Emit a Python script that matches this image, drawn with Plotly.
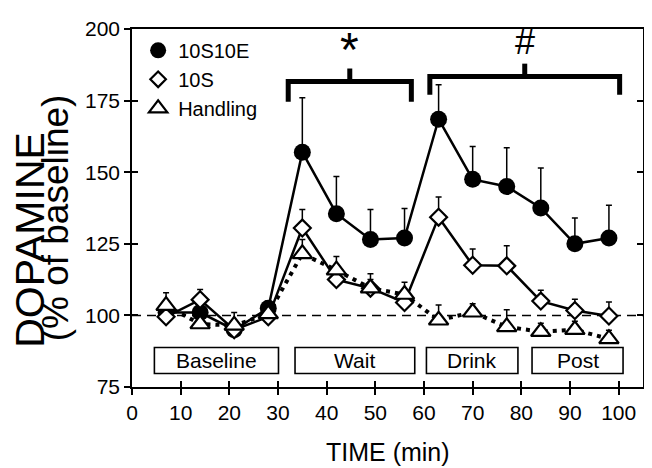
import plotly.graph_objects as go

# ---------------- data ----------------
time_min = [7, 14, 21, 28, 35, 42, 49, 56, 63, 70, 77, 84, 91, 98]

s10e_mean = [101, 101, 95, 102.5, 157, 135.5, 126.5, 127, 168.5, 147.5, 145, 137.5, 125, 127]
s10e_err = [2, 2, 2, 2.5, 19, 13, 10.5, 10.3, 12, 11.5, 13.5, 14, 9, 11.5]

s10_mean = [99.5, 105.5, 95, 99.5, 130.5, 112.5, 109.5, 104.5, 134.3, 117.5, 117.3, 105, 101.7, 99.8]
s10_err = [3, 3.5, 2, 2, 6.5, 3, 3, 4, 7, 5.7, 7, 3.8, 3.9, 4.9]

hand_mean = [103.4, 97, 96.5, 100.5, 121.5, 115.8, 109.5, 107.3, 98.3, 101.1, 96, 94.3, 95, 91.8]
hand_err = [4.5, 3, 4.5, 2, 5, 4.8, 5, 4.3, 5.3, 3, 6, 3, 3, 3]

series_names = ["10S10E", "10S", "Handling"]

periods = ["Baseline", "Wait", "Drink", "Post"]
period_start = [4.6, 33.5, 60.5, 82.2]
period_end = [30.1, 58.1, 79.3, 100.9]

bracket_symbols = ["*", "#"]
bracket_start = [32.1, 61.2]
bracket_end = [57.4, 100.2]

x_ticks = list(range(0, 101, 10))
y_ticks = [75, 100, 125, 150, 175, 200]

FONT = "Arial, Liberation Sans, Helvetica, sans-serif"
BLACK = "black"

fig = go.Figure()


def zeros(n):
    return [0] * n


err_style = dict(type="data", symmetric=False, thickness=1.5, width=3, color=BLACK)

# 10S10E - filled circles, solid line
fig.add_trace(go.Scatter(
    x=time_min, y=s10e_mean, mode="lines+markers", showlegend=False,
    line=dict(color=BLACK, width=2.5),
    marker=dict(symbol="circle", size=17, color=BLACK, line=dict(color=BLACK, width=0)),
    error_y=dict(array=s10e_err, arrayminus=zeros(len(s10e_err)), **err_style),
))
# 10S - open diamonds, solid line
fig.add_trace(go.Scatter(
    x=time_min, y=s10_mean, mode="lines+markers", showlegend=False,
    line=dict(color=BLACK, width=2.5),
    marker=dict(symbol="diamond", size=13, color="white", line=dict(color=BLACK, width=2.2)),
    error_y=dict(array=s10_err, arrayminus=zeros(len(s10_err)), **err_style),
))
# Handling - open triangles, dotted line
fig.add_trace(go.Scatter(
    x=time_min, y=hand_mean, mode="lines+markers", showlegend=False,
    line=dict(color=BLACK, width=4, dash="4px,5px"),
    marker=dict(symbol="triangle-up", size=17, color="white", line=dict(color=BLACK, width=2.2)),
    error_y=dict(array=hand_err, arrayminus=zeros(len(hand_err)), **err_style),
))

# legend-only entries
leg_markers = [
    dict(symbol="circle", size=16, color=BLACK, line=dict(color=BLACK, width=0)),
    dict(symbol="diamond", size=12, color="white", line=dict(color=BLACK, width=2.2)),
    dict(symbol="triangle-up", size=16, color="white", line=dict(color=BLACK, width=2.2)),
]
for name, mk in zip(series_names, leg_markers):
    fig.add_trace(go.Scatter(x=[None], y=[None], mode="markers", name=name, marker=mk))

# overlay axes for inward ticks
fig.add_trace(go.Scatter(x=[None], y=[None], xaxis="x2", yaxis="y2", showlegend=False,
                         hoverinfo="skip"))

# baseline dashed line at 100
fig.add_hline(y=100, line=dict(color=BLACK, width=1.5, dash="9px,6px"), layer="below")

# period boxes
for lab, a, b in zip(periods, period_start, period_end):
    fig.add_shape(type="rect", x0=a, x1=b, y0=79.7, y1=88.8, xref="x", yref="y",
                  line=dict(color=BLACK, width=1.6), fillcolor="white", layer="above")
    fig.add_annotation(x=(a + b) / 2, y=84.25, text=lab, showarrow=False,
                       font=dict(family=FONT, size=21, color=BLACK),
                       xanchor="center", yanchor="middle")

# significance brackets
bracket_y = [181.7, 183.4]
bracket_drop = [7.1, 6.4]
sym_y = [193.0, 195.5]
sym_size = [48, 36]
for sym, a, b, by, dr, sy, ss in zip(bracket_symbols, bracket_start, bracket_end,
                                     bracket_y, bracket_drop, sym_y, sym_size):
    mid = (a + b) / 2
    fig.add_shape(type="path",
                  path=f"M {a},{by - dr} L {a},{by} L {b},{by} L {b},{by - dr}",
                  line=dict(color=BLACK, width=5), xref="x", yref="y")
    fig.add_shape(type="line", x0=mid, x1=mid, y0=by, y1=by + 4.5,
                  line=dict(color=BLACK, width=5), xref="x", yref="y")
    fig.add_annotation(x=mid, y=sy, text=sym, showarrow=False,
                       font=dict(family=FONT, size=ss, color=BLACK),
                       xanchor="center", yanchor="middle")

# y title (two lines)
fig.add_annotation(xref="paper", yref="paper", x=-0.201, y=0.412, text="DOPAMINE",
                   textangle=-90, showarrow=False, xanchor="center", yanchor="middle",
                   font=dict(family=FONT, size=41, color=BLACK))
fig.add_annotation(xref="paper", yref="paper", x=-0.150, y=0.472, text="(% of baseline)",
                   textangle=-90, showarrow=False, xanchor="center", yanchor="middle",
                   font=dict(family=FONT, size=37, color=BLACK))
# x title
fig.add_annotation(xref="paper", yref="paper", x=0.5, y=-0.182, text="TIME (min)",
                   showarrow=False, xanchor="center", yanchor="middle",
                   font=dict(family=FONT, size=25, color=BLACK))

axis_common = dict(showgrid=False, zeroline=False, linecolor=BLACK, linewidth=1.6,
                   tickcolor=BLACK, tickwidth=1.5, ticklen=6, ticklabeloverflow="allow",
                   tickfont=dict(family=FONT, size=21, color=BLACK))

fig.update_layout(
    width=652, height=468,
    margin=dict(l=124, r=9, t=10, b=89),
    paper_bgcolor="white", plot_bgcolor="white",
    font=dict(family=FONT, color=BLACK),
    xaxis=dict(range=[0, 105], tickvals=x_ticks, ticks="outside", showline=True,
               mirror=True, **axis_common),
    yaxis=dict(range=[75, 200], tickvals=y_ticks, ticks="outside", showline=True,
               mirror="ticks", **axis_common),
    xaxis2=dict(range=[0, 105], tickvals=x_ticks, ticks="inside", overlaying="x",
                anchor="y2", side="bottom", showline=False, showticklabels=False,
                showgrid=False, zeroline=False, tickcolor=BLACK, tickwidth=1.5, ticklen=6),
    yaxis2=dict(range=[75, 200], tickvals=y_ticks, ticks="inside", overlaying="y",
                anchor="x2", side="left", showline=False, showticklabels=False,
                mirror="ticks", showgrid=False, zeroline=False,
                tickcolor=BLACK, tickwidth=1.5, ticklen=6),
    legend=dict(x=0.012, y=0.995, xanchor="left", yanchor="top",
                font=dict(family=FONT, size=20, color=BLACK),
                bgcolor="rgba(0,0,0,0)", borderwidth=0, tracegroupgap=0,
                itemwidth=30),
    showlegend=True,
)

fig.write_html("out.html")
